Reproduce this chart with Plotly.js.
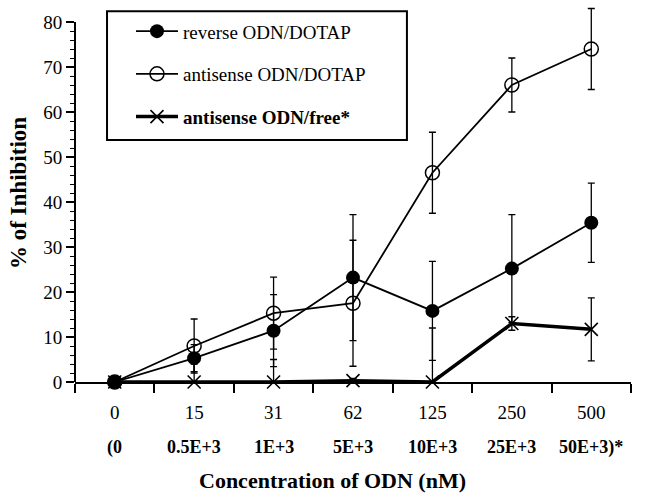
<!DOCTYPE html>
<html><head><meta charset="utf-8">
<script src="https://cdn.plot.ly/plotly-3.0.1.min.js"></script>
<style>body{margin:0;background:#fff}#chart{width:647px;height:497px}</style>
</head><body><div id="chart"></div>
<script>
const concLabels = ["0","15","31","62","125","250","500"];
const freeLabels = ["(0","0.5E+3","1E+3","5E+3","10E+3","25E+3","50E+3)*"];
const xIndex = [0,1,2,3,4,5,6];
const reverseVals = [0, 5.3, 11.4, 23.2, 15.8, 25.2, 35.4];
const reverseErr  = [0, 3, 8, 14, 11, 12, 8.8];
const antisenseVals = [0, 8, 15.3, 17.5, 46.5, 66, 74];
const antisenseErr  = [0, 6, 8, 14, 9, 6, 9];
const freeVals = [0, 0, 0, 0.3, 0, 13, 11.7];
const freeErr  = [0, 4, 5, 0.5, 12, 1.5, 7];

const F = "Liberation Serif, Times New Roman, serif";
function err(a){return {type:'data',array:a,visible:true,color:'#000',thickness:1.3,width:3.5};}

const traces = [
 {x:xIndex,y:reverseVals,name:"reverse ODN/DOTAP",mode:"lines+markers",legendgroup:"a",
  line:{color:'#000',width:1.8},marker:{symbol:'circle',size:14,color:'#000'},error_y:err(reverseErr),cliponaxis:false},
 {x:xIndex,y:antisenseVals,name:"antisense ODN/DOTAP",mode:"lines+markers",legendgroup:"b",
  line:{color:'#000',width:1.8},marker:{symbol:'circle-open',size:14,color:'#000',line:{width:1.5,color:'#000'}},error_y:err(antisenseErr),cliponaxis:false},
 {x:xIndex,y:freeVals,name:"<b>antisense ODN/free*</b>",mode:"lines+markers",legendgroup:"c",
  line:{color:'#000',width:3.5},marker:{symbol:'x-thin-open',size:13,color:'#000',line:{width:1.6,color:'#000'}},error_y:err(freeErr),cliponaxis:false}
];

const yMinor = [];
for (let v = 2; v < 80; v += 2) if (v % 10 !== 0) yMinor.push(v);

const annotations = freeLabels.map((t,i)=>({x:xIndex[i],y:-0.172,xref:'x',yref:'paper',text:"<b>"+t+"</b>",
  showarrow:false,xanchor:'center',yanchor:'middle',font:{family:F,size:18,color:'#000'}}));
annotations.push({x:0.464,y:-0.261,xref:'paper',yref:'paper',text:"<b>Concentration of ODN (nM)</b>",
  showarrow:false,xanchor:'center',yanchor:'middle',font:{family:F,size:22,color:'#000'}});

const layout = {
 width:647,height:497,margin:{l:75,r:16,t:4,b:115},
 paper_bgcolor:'#fff',plot_bgcolor:'#fff',
 font:{family:F,color:'#000',size:17},
 showlegend:true,
 legend:{x:0.1007,y:0.978,xanchor:'left',yanchor:'top',borderwidth:0,
   bgcolor:'rgba(0,0,0,0)',font:{family:F,size:19,color:'#000'},itemwidth:42,tracegroupgap:15,traceorder:'grouped'},
 shapes:[
  {type:'rect',xref:'paper',yref:'paper',x0:0.0576,x1:0.597,y0:0.640,y1:0.981,line:{color:'#000',width:2},fillcolor:'rgba(0,0,0,0)'},
  {type:'line',xref:'paper',yref:'y',x0:0,x1:0,y0:0,y1:80,line:{color:'#000',width:2}}
 ],
 annotations:annotations,
 xaxis:{range:[-0.5,6.5],tickvals:xIndex,ticktext:concLabels,ticks:'',showgrid:false,zeroline:false,
   showline:true,linecolor:'#000',linewidth:2,tickfont:{family:F,size:19},ticklabelstandoff:12,
   minor:{tick0:0.5,dtick:1,ticks:'outside',ticklen:9,tickcolor:'#000',tickwidth:1.5,showgrid:false}},
 yaxis:{range:[0,84],dtick:10,ticks:'outside',ticklen:8,tickwidth:1.5,tickcolor:'#000',showgrid:false,zeroline:false,
   showline:false,tickfont:{family:F,size:19},
   minor:{tickmode:'array',tickvals:yMinor,ticks:'outside',ticklen:4,tickcolor:'#000',tickwidth:1,showgrid:false},
   title:{text:"<b>% of Inhibition</b>",font:{family:F,size:23},standoff:10}}
};
Plotly.newPlot('chart',traces,layout,{displayModeBar:false});
</script></body></html>
